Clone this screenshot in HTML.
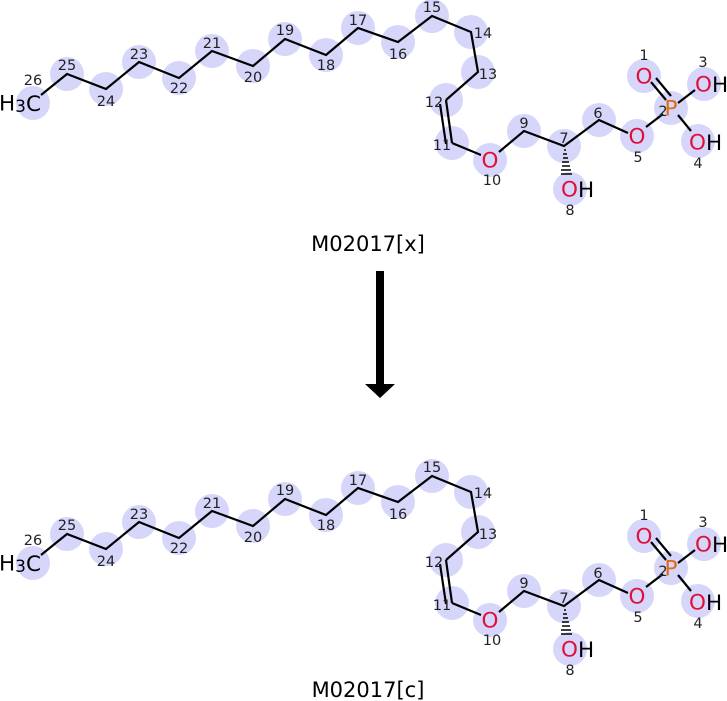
<!DOCTYPE html>
<html><head><style>body{margin:0;background:#fff}svg{display:block}</style></head><body>
<svg width="727" height="701" xmlns="http://www.w3.org/2000/svg" font-family="DejaVu Sans, Liberation Sans, sans-serif">
<defs>
<g id="m">
<g fill="#d6d6fa">
<circle cx="33" cy="103" r="17"/><circle cx="67" cy="74" r="17"/><circle cx="106" cy="89" r="17"/><circle cx="139" cy="62" r="17"/><circle cx="179" cy="78" r="17"/><circle cx="212" cy="51" r="17"/><circle cx="253" cy="66" r="17"/><circle cx="285" cy="39" r="17"/><circle cx="326" cy="55" r="17"/><circle cx="358" cy="28" r="17"/><circle cx="398" cy="42" r="17"/><circle cx="432" cy="16" r="17"/><circle cx="471" cy="32" r="17"/><circle cx="478" cy="72" r="17"/><circle cx="446" cy="100" r="17"/><circle cx="452" cy="143" r="17"/><circle cx="490" cy="160" r="17"/><circle cx="524" cy="131" r="17"/><circle cx="564" cy="146" r="17"/><circle cx="599" cy="120" r="17"/><circle cx="637" cy="136" r="17"/><circle cx="671" cy="108" r="17"/><circle cx="644" cy="76" r="17"/><circle cx="704" cy="84" r="17"/><circle cx="698" cy="141" r="17"/><circle cx="570" cy="189" r="17"/>
</g>
<polyline fill="none" stroke="#000" stroke-width="2.2" points="41,95 67,74 106,89 139,62 179,78 212,51 253,66 285,39 326,55 358,28 398,42 432,16 471,32 478,72 446,100"/>
<line x1="446" y1="100" x2="452" y2="143" stroke="#000" stroke-width="2.2"/>
<line x1="440" y1="104" x2="446" y2="144" stroke="#000" stroke-width="2.2"/>
<polyline fill="none" stroke="#000" stroke-width="2.2" points="452,143 481,155"/>
<polyline fill="none" stroke="#000" stroke-width="2.2" points="499,152 524,131 564,146 599,120 628,133"/>
<line x1="646" y1="127" x2="663" y2="114" stroke="#000" stroke-width="2.2"/>
<line x1="651" y1="82" x2="666" y2="100" stroke="#000" stroke-width="2.2"/>
<line x1="656" y1="78" x2="671" y2="96" stroke="#000" stroke-width="2.2"/>
<line x1="678" y1="103" x2="695" y2="90" stroke="#000" stroke-width="2.2"/>
<line x1="678" y1="115" x2="691" y2="131" stroke="#000" stroke-width="2.2"/>
<g stroke="#000" stroke-width="1.5">
<line x1="564" y1="150" x2="566" y2="150"/><line x1="563" y1="154" x2="567" y2="154"/><line x1="563" y1="158" x2="568" y2="158"/><line x1="562" y1="162" x2="569" y2="162"/><line x1="562" y1="166" x2="570" y2="166"/><line x1="561" y1="170" x2="571" y2="170"/><line x1="561" y1="174" x2="572" y2="174"/>
</g>
<g font-size="14.5" fill="#222" text-anchor="middle" dominant-baseline="central">
<text x="33" y="81">26</text><text x="67" y="66">25</text><text x="106" y="102">24</text><text x="139" y="55">23</text><text x="179" y="89">22</text><text x="212" y="44">21</text><text x="253" y="78">20</text><text x="285" y="31">19</text><text x="326" y="66">18</text><text x="358" y="21">17</text><text x="398" y="55">16</text><text x="432" y="8">15</text><text x="483" y="34">14</text><text x="488" y="75">13</text><text x="434" y="103">12</text><text x="442" y="146">11</text><text x="492" y="181">10</text><text x="524" y="124">9</text><text x="564" y="139">7</text><text x="598" y="114">6</text><text x="638" y="158">5</text><text x="663" y="112">2</text><text x="644" y="56">1</text><text x="703" y="63">3</text><text x="698" y="164">4</text><text x="570" y="211">8</text>
</g>
<g font-size="21.5" dominant-baseline="central">
<text x="-1" y="104" fill="#000">H<tspan font-size="17" dy="3">3</tspan><tspan dy="-3">C</tspan></text>
<text x="490" y="161" fill="#e0103a" text-anchor="middle">O</text>
<text x="637" y="137" fill="#e0103a" text-anchor="middle">O</text>
<text x="644" y="77" fill="#e0103a" text-anchor="middle">O</text>
<text x="671" y="109" fill="#e06a10" text-anchor="middle">P</text>
<text x="695" y="85" fill="#e0103a">O<tspan fill="#000">H</tspan></text>
<text x="689" y="143" fill="#e0103a">O<tspan fill="#000">H</tspan></text>
<text x="561" y="190" fill="#e0103a">O<tspan fill="#000">H</tspan></text>
</g>
</g>
</defs>
<use href="#m"/>
<use href="#m" y="460"/>
<g font-size="21" text-anchor="middle" dominant-baseline="central" fill="#000">
<text x="368" y="244">M02017[x]</text>
<text x="368" y="690">M02017[c]</text>
</g>
<rect x="376" y="271" width="8" height="115" fill="#000"/>
<polygon points="365,384 395,384 380,398" fill="#000"/>
</svg>
</body></html>
